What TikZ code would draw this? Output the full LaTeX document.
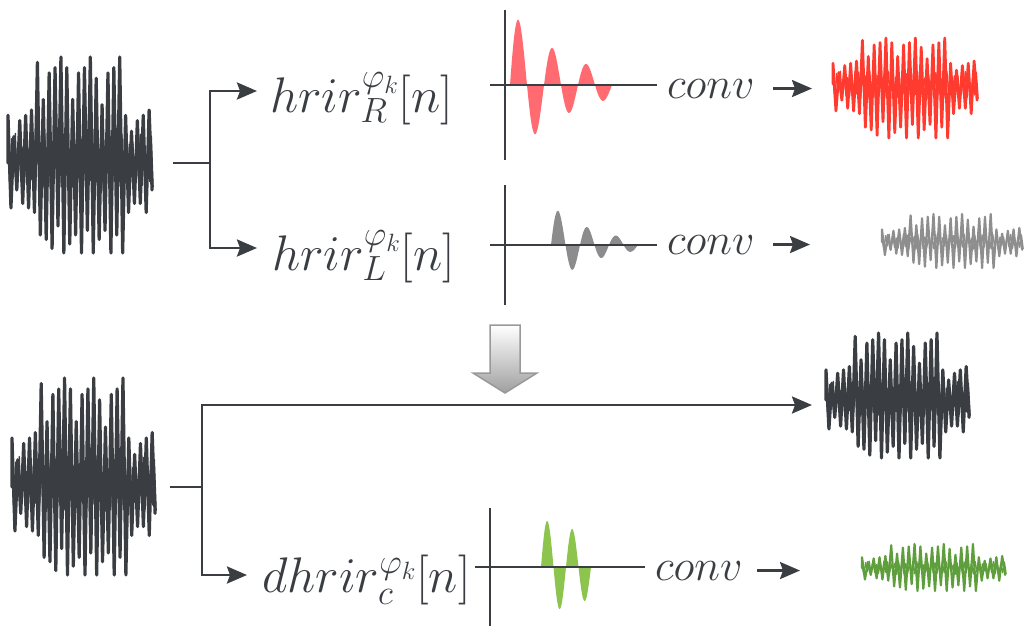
\RequirePackage{fix-cm}
\documentclass[tikz,border=0pt]{standalone}
\usepackage{amsmath}
\usetikzlibrary{arrows.meta, positioning}
\definecolor{ink}{HTML}{3A3D42}
\definecolor{irred}{HTML}{FF6B70}
\definecolor{sigred}{HTML}{FF3B30}
\definecolor{irgray}{HTML}{8C8C8C}
\definecolor{siggray}{HTML}{8E8E8E}
\definecolor{irgreen}{HTML}{8DC44E}
\definecolor{siggreen}{HTML}{5E9E3C}
\tikzset{
  wire/.style={draw=ink, line width=2.6pt},
  arrow/.style={wire, -{Stealth[length=20pt, width=17pt, inset=3pt]}},
  axis/.style={draw=ink, line width=2.4pt},
  firlabel/.style={font=\fontsize{50}{56}\selectfont, text=ink, inner sep=0pt, anchor=base west},
  convlabel/.style={firlabel, font=\fontsize{44}{50}\selectfont},
}
% envelope of the speech-like signal (up/down)
\newcommand{\wavelist}{0.45/0.5, 0.25/0.3, 0.4/0.45, 0.45/0.5, 0.5/0.55,
  0.95/0.8, 0.6/0.85, 0.85/0.95, 0.9/0.7, 1.0/1.0, 0.9/0.9, 0.6/0.8,
  0.85/1.0, 0.9/0.75, 1.0/1.0, 0.8/0.85, 0.55/0.75, 0.85/1.0, 0.9/0.8,
  1.0/1.0, 0.45/0.55, 0.3/0.45, 0.4/0.45, 0.45/0.55, 0.5/0.3}
% #1 left x, #2 centre y, #3 width, #4 up amp, #5 down amp, #6 style
\newcommand{\sigwave}[6]{%
  \draw[#6, line join=round, line cap=round] (#1,#2)
    \foreach \u/\d [count=\i from 0] in \wavelist {
      -- ({#1+\i*#3/25},{#2-\u*#4}) -- ({#1+(\i+0.5)*#3/25},{#2+\d*#5})
    };
  \draw[#6, line join=round, line width=1.3pt] (#1,#2)
    \foreach \k in {0,...,39} {
      -- ({#1+\k*#3/40},{#2-(0.12+0.16*abs(sin(\k*137)))*#4})
      -- ({#1+(\k+0.5)*#3/40},{#2+(0.12+0.16*abs(cos(\k*101)))*#5})
    };
}

\begin{document}
\begin{tikzpicture}[x=1pt, y=-1pt]
  \useasboundingbox (0,0) rectangle (1027,626);

  % binaural part
  \sigwave{8}{163}{147}{106}{90}{ink, line width=3.2pt}
  \coordinate (in1) at (173,163);
  \coordinate (fork1) at (210,163);
  \coordinate (tipR) at (257,91);
  \coordinate (tipL) at (257,248);
  \draw[wire] (in1) -- (fork1);
  \draw[arrow] (fork1) |- (tipR);
  \draw[arrow] (fork1) |- (tipL);

  \node[firlabel] (hR) at (270,112) {$hrir^{\varphi_k}_R[n]$};
  \node[firlabel] (hL) at (272,270) {$hrir^{\varphi_k}_L[n]$};

  \fill[irred] plot[domain=0:102, samples=160]
    ({510+\x},{85-75*exp(-\x/60)*sin(\x*10.5882)}) -- cycle;
  \draw[axis] (490,85) -- (657,85);
  \draw[axis] (505,10) -- (505,160);

  \fill[irgray] plot[domain=0:87, samples=140]
    ({551+\x},{245-40*exp(-\x/45)*sin(\x*12.4138)}) -- cycle;
  \draw[axis] (490,245) -- (657,245);
  \draw[axis] (505,185) -- (505,305);

  \node[convlabel] (convR) at (667,98) {$conv$};
  \node[convlabel] (convL) at (667,254) {$conv$};
  \coordinate (outR) at (812,88);
  \coordinate (outL) at (810,243);
  \draw[arrow, shorten <=18pt] (convR.east) -- (convR.east -| outR);
  \draw[arrow, shorten <=18pt] (convL.east) -- (convL.east -| outL);

  \sigwave{833}{84}{147}{46}{54}{sigred, line width=2.8pt}
  \sigwave{882}{242}{143}{28}{26}{siggray, line width=2.2pt}

  % transition
  \shade[top color=white, bottom color=gray!75, draw=gray!80, line width=1.5pt]
    (490,325) -- (520,325) -- (520,373) -- (537,373) -- (505,393)
    -- (473,373) -- (490,373) -- cycle;

  % direct + difference part
  \sigwave{12}{487}{146}{109}{88}{ink, line width=3.2pt}
  \coordinate (in2) at (170,487);
  \coordinate (fork2) at (202,487);
  \coordinate (tipD) at (812,405);
  \coordinate (tipC) at (247,575);
  \draw[wire] (in2) -- (fork2);
  \draw[arrow] (fork2) |- (tipD);
  \draw[arrow] (fork2) |- (tipC);

  \node[firlabel] (hC) at (262,592) {$dhrir^{\varphi_k}_c[n]$};

  \fill[irgreen] plot[domain=0:50, samples=120]
    ({541+\x},{567-48*(1-\x/150)*sin(\x*14.4)}) -- cycle;
  \draw[axis] (475,567) -- (645,567);
  \draw[axis] (490,508) -- (490,626);

  \node[convlabel] (convC) at (655,580) {$conv$};
  \coordinate (outC) at (800,570);
  \draw[arrow, shorten <=14pt] (convC.east) -- (convC.east -| outC);

  \sigwave{826}{400}{146}{67}{58}{ink, line width=3.2pt}
  \sigwave{862}{568}{146}{24}{23}{siggreen, line width=2.2pt}
\end{tikzpicture}
\end{document}
